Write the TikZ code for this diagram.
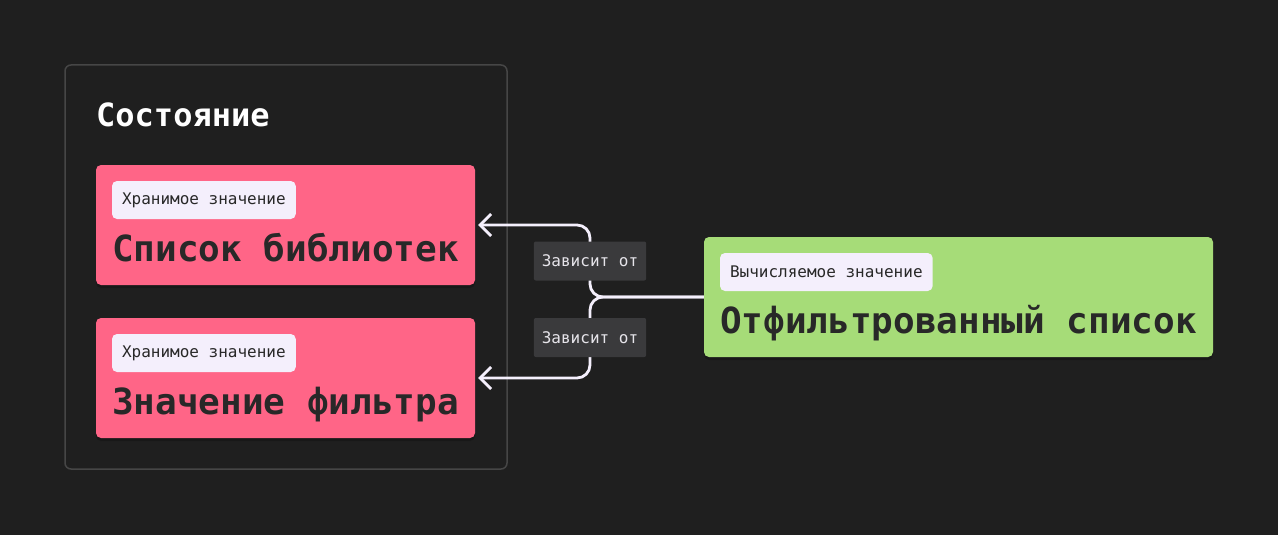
\documentclass[tikz,border=0pt]{standalone}
\usepackage{fontspec}
\setmainfont{DejaVu Sans Mono}
\usetikzlibrary{arrows.meta,calc,shadows}

\definecolor{bg}{HTML}{1F1F1F}
\definecolor{framegrey}{HTML}{464646}
\definecolor{storedpink}{HTML}{FF6587}
\definecolor{computedgreen}{HTML}{A6DC78}
\definecolor{tagwhite}{HTML}{F4EFFC}
\definecolor{ink}{HTML}{282828}
\definecolor{labelgrey}{HTML}{3A3A3C}
\definecolor{labeltext}{HTML}{E6E4EA}

\tikzset{
    value/.style={rounded corners=5pt, minimum height=120pt, inner sep=0pt,
        drop shadow={shadow xshift=0pt, shadow yshift=-3pt, opacity=0.2, fill=black}},
    stored/.style={value, fill=storedpink, minimum width=379pt},
    computed/.style={value, fill=computedgreen, minimum width=509pt},
    tag/.style={fill=tagwhite, text=ink, rounded corners=5pt, anchor=north west,
        font=\fontsize{16}{19}\selectfont, inner xsep=10pt, minimum height=38pt},
    valuetext/.style={text=ink, anchor=base west, inner sep=0pt,
        font=\fontsize{36}{43}\selectfont\bfseries},
    dep/.style={draw=tagwhite, line width=2.8pt, rounded corners=13pt,
        -{Straight Barb[length=11pt,width=22pt]}, shorten >=3pt},
    deplabel/.style={fill=labelgrey, text=labeltext, rounded corners=2pt,
        font=\fontsize{16}{19}\selectfont, inner xsep=8pt, minimum height=39pt}
}

\begin{document}
\begin{tikzpicture}[x=1pt, y=-1pt]
    % Background
    \fill[bg] (0,0) rectangle (1278,535);

    % State frame
    \node[draw=framegrey, line width=1.5pt, rounded corners=6pt,
        minimum width=442pt, minimum height=404pt] (state) at (286,267) {};
    \node[anchor=base west, inner sep=0pt, text=white,
        font=\fontsize{32}{38}\selectfont\bfseries] (statetitle) at (96,126) {Состояние};

    % Stored values
    \node[stored] (libraries) at (285.5,225) {};
    \node[tag] (librariestag) at ($(libraries.north west)+(16,16)$) {Хранимое значение};
    \node[valuetext] (librariestext) at ($(libraries.north west)+(16,97)$) {Список библиотек};

    \node[stored] (filter) at (285.5,378) {};
    \node[tag] (filtertag) at ($(filter.north west)+(16,16)$) {Хранимое значение};
    \node[valuetext] (filtertext) at ($(filter.north west)+(16,97)$) {Значение фильтра};

    % Computed value
    \node[computed] (filtered) at (958.5,297) {};
    \node[tag] (filteredtag) at ($(filtered.north west)+(16,16)$) {Вычисляемое значение};
    \node[valuetext] (filteredtext) at ($(filtered.north west)+(16,97)$) {Отфильтрованный список};

    % Dependencies
    \coordinate (split) at (590,297);
    \draw[dep] (filtered.west) -- (split) |- node[deplabel, pos=0.25] {Зависит от} (libraries.east);
    \draw[dep] (filtered.west) -- (split) |- node[deplabel, pos=0.25] {Зависит от} (filter.east);
\end{tikzpicture}
\end{document}
